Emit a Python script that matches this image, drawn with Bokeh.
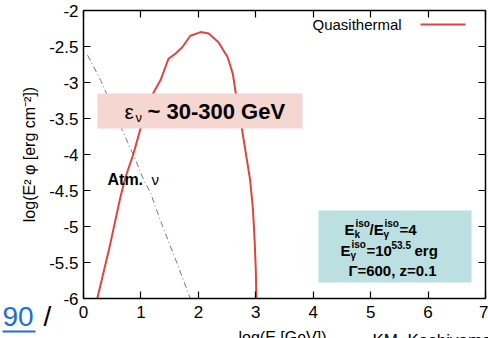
from bokeh.plotting import figure
from bokeh.models import Label, BoxAnnotation, LinearAxis, FixedTicker, Range1d
from bokeh.embed import file_html
from bokeh.resources import INLINE

# ---------------- data ----------------
x_ticks = [0, 1, 2, 3, 4, 5, 6, 7]
x_tick_labels = ["0", "1", "2", "3", "4", "5", "6", "7"]
y_ticks = [-6, -5.5, -5, -4.5, -4, -3.5, -3, -2.5, -2]
y_tick_labels = ["-6", "-5.5", "-5", "-4.5", "-4", "-3.5", "-3", "-2.5", "-2"]

quasi_x = [0.24, 0.45, 0.64, 0.73, 0.87, 1.0, 1.1, 1.22, 1.34, 1.48, 1.6, 1.72,
           1.86, 2.04, 2.18, 2.35, 2.51, 2.6, 2.65, 2.7, 2.8, 2.9, 2.95, 2.98, 3.0, 3.01]
quasi_y = [-6.0, -5.3, -4.6, -4.32, -3.99, -3.62, -3.38, -3.14, -2.97, -2.67, -2.6, -2.51,
           -2.35, -2.3, -2.32, -2.44, -2.65, -2.88, -3.14, -3.35, -3.85, -4.35, -4.75, -5.2, -5.6, -6.0]

atm_x = [0.07, 0.3, 0.68, 0.91, 1.03, 1.17, 1.34, 1.6, 1.86]
atm_y = [-2.62, -2.97, -3.67, -4.08, -4.32, -4.54, -4.92, -5.45, -6.0]

X_MIN, X_MAX = 0, 7
Y_MIN, Y_MAX = -6, -2

# ---------------- layout helpers ----------------
FONT = "Liberation Sans"
RED = "#e0443c"
W, H = 488, 338
# pixel position of the data box inside the canvas
X0, XS, Y0, YS = 83.0, 57.43, 10.0, 72.0
def dx(px):
    return (px - X0) / XS
def dy(py):
    return Y_MAX - (py - Y0) / YS

p = figure(width=W, height=H, output_backend="svg", toolbar_location=None,
           x_range=Range1d(dx(0), dx(W)), y_range=Range1d(dy(H), dy(0)),
           min_border=0, x_axis_location=None, y_axis_location=None)
p.grid.visible = False
p.outline_line_color = None
p.background_fill_color = "white"
p.border_fill_color = "white"

def make_axis(ticks, labels, loc, bounds, show_labels):
    ax = LinearAxis(ticker=FixedTicker(ticks=ticks), fixed_location=loc, bounds=bounds,
                    major_tick_in=7, major_tick_out=0, minor_tick_line_color=None,
                    axis_line_color="black", axis_line_width=1.5,
                    major_tick_line_color="black", major_tick_line_width=1.2,
                    major_label_text_font=FONT, major_label_text_font_size="17px",
                    major_label_text_color="black" if show_labels else None,
                    major_label_overrides={t: l for t, l in zip(ticks, labels)})
    return ax

bottom = make_axis(x_ticks, x_tick_labels, Y_MIN, (X_MIN, X_MAX), True)
bottom.major_label_standoff = 7
left = make_axis(y_ticks, y_tick_labels, X_MIN, (Y_MIN, Y_MAX), True)
left.major_label_standoff = 5
left.axis_label = "log(E\u00b2 \u03c6 [erg cm\u207b\u00b2])"
left.axis_label_text_font = FONT
left.axis_label_text_font_size = "16px"
left.axis_label_text_font_style = "normal"
left.axis_label_text_color = "black"
left.axis_label_standoff = 8
top = make_axis(x_ticks, x_tick_labels, Y_MAX, (X_MIN, X_MAX), False)
right = make_axis(y_ticks, y_tick_labels, X_MAX, (Y_MIN, Y_MAX), False)

p.add_layout(bottom, "below")
p.add_layout(left, "left")
p.add_layout(top, "above")
p.add_layout(right, "right")

# curves
p.line(atm_x, atm_y, line_color="#777777", line_width=1, line_dash="6 3 1 3")
p.line(quasi_x, quasi_y, line_color=RED, line_width=2)

def lab(text, px, py, size, bold=False, color="black", align="left", baseline="middle"):
    p.add_layout(Label(x=dx(px), y=dy(py), text=text, text_font=FONT,
                       text_font_size=f"{size}px", text_font_style="bold" if bold else "normal",
                       text_color=color, text_align=align, text_baseline=baseline))

# legend
lab("Quasithermal", 312, 24, 15)
p.line([dx(420), dx(465)], [dy(24), dy(24)], line_color=RED, line_width=2)

# pink box
p.add_layout(BoxAnnotation(left=dx(97), right=dx(302), top=dy(93), bottom=dy(128),
                           fill_color="#f6d6d0", fill_alpha=1, line_color=None))
lab("\u03b5", 124, 111, 21)
lab("\u03bd", 135, 117, 13)
lab("~ 30-300 GeV", 147, 111, 22, bold=True)

# Atm nu
lab("Atm.", 107, 179, 16, bold=True)
lab("\u03bd", 151, 179, 15)

# blue box
p.add_layout(BoxAnnotation(left=dx(318), right=dx(471), top=dy(210), bottom=dy(282),
                           fill_color="#bcdfe2", fill_alpha=1, line_color=None))
# line 1
lab("E", 344, 229, 15, bold=True)
lab("k", 354, 234, 10, bold=True)
lab("iso", 355, 223, 10, bold=True)
lab("/E", 369, 229, 15, bold=True)
lab("\u03b3", 383, 234, 10, bold=True)
lab("iso", 384, 223, 10, bold=True)
lab("=4", 399, 229, 15, bold=True)
# line 2
lab("E", 340, 250, 15, bold=True)
lab("\u03b3", 350, 255, 10, bold=True)
lab("iso", 351, 244, 10, bold=True)
lab("=10", 366, 250, 15, bold=True)
lab("53.5", 391, 244, 10, bold=True)
lab("erg", 414, 250, 15, bold=True)
# line 3
lab("\u0393=600, z=0.1", 392, 270, 15, bold=True, align="center")

# slide fragments around the chart
lab("90", 2, 316, 28, color="#1f6fd1")
p.line([dx(2), dx(35)], [dy(331), dy(331)], line_color="#1f6fd1", line_width=2)
lab("/", 43, 316, 28)
lab("log(E [GeV])", 238, 328, 16, baseline="top")
lab("KM, Kashiyama", 372, 330, 17, baseline="top")

open("out.html", "w").write(file_html(p, INLINE))
